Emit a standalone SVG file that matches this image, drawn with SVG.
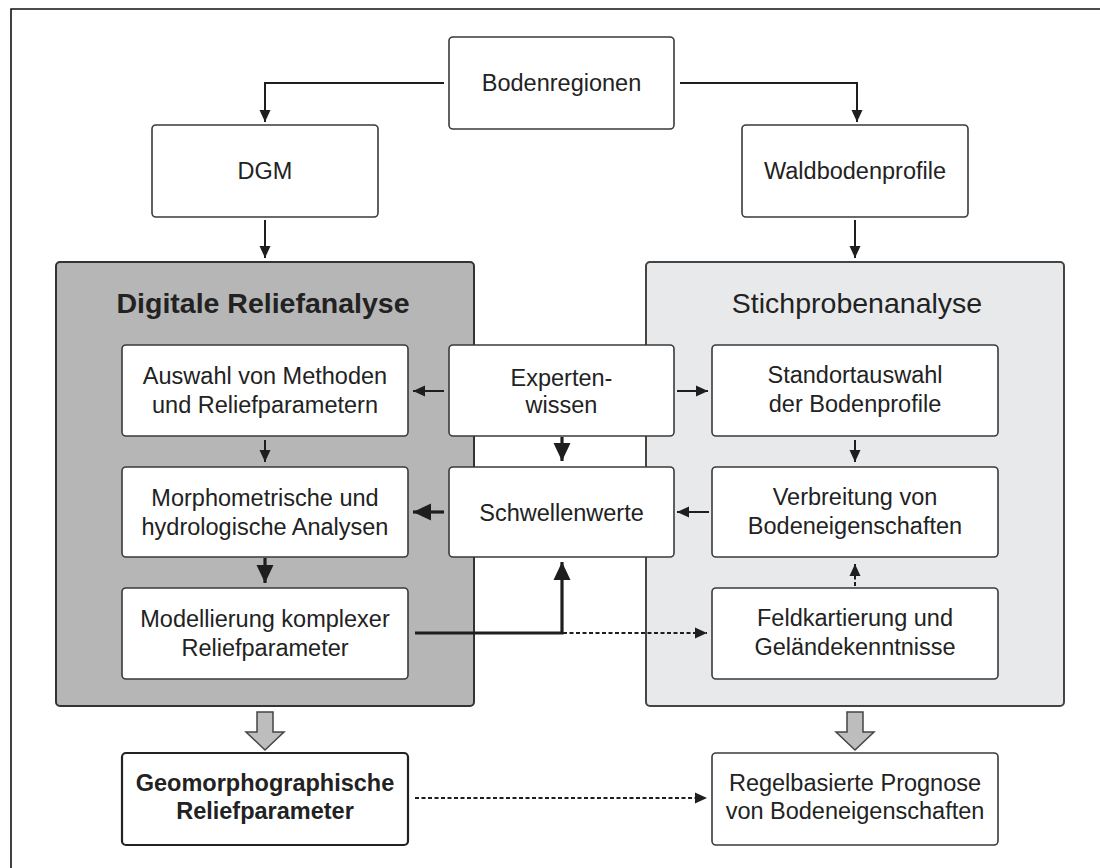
<svg xmlns="http://www.w3.org/2000/svg" width="1100" height="868" viewBox="0 0 1100 868">
<defs>
<style>
.box{fill:#fff;stroke:#3a3a3a;stroke-width:1.6}
.bold{stroke:#222;stroke-width:2.2}
.t{font-family:"Liberation Sans",Arial,sans-serif;font-size:23.5px;fill:#222;text-anchor:middle}
.tb{font-weight:bold}
.ln{fill:none;stroke:#1e1e1e;stroke-width:2}
.thk{fill:none;stroke:#1e1e1e;stroke-width:3.2}
.dot{fill:none;stroke:#1e1e1e;stroke-width:2;stroke-dasharray:4 2.5}
.blk{fill:#bdbdbd;stroke:#444;stroke-width:1.5}
</style>
<marker id="ah" markerUnits="userSpaceOnUse" markerWidth="13" markerHeight="12" refX="12" refY="6" orient="auto"><path d="M0,0.5 L12,6 L0,11.5 z" fill="#1e1e1e"/></marker>
<marker id="ahT" markerUnits="userSpaceOnUse" markerWidth="19" markerHeight="18" refX="18" refY="9" orient="auto"><path d="M0,0.5 L18,9 L0,17.5 z" fill="#1e1e1e"/></marker>
</defs>
<rect width="1100" height="868" fill="#fff"/>
<path d="M11,868 V9 H1100" fill="none" stroke="#111" stroke-width="1.6"/>

<g id="group-relief">
<rect x="56" y="262" width="418" height="444" rx="4" fill="#b6b6b6" stroke="#333" stroke-width="2"/>
<text class="t tb" x="263" y="313" style="font-size:28.5px">Digitale Reliefanalyse</text>
</g>
<g id="group-stichprobe">
<rect x="646" y="262" width="418" height="444" rx="4" fill="#e8e9eb" stroke="#444" stroke-width="2"/>
<text class="t" x="857" y="313" style="font-size:28.5px">Stichprobenanalyse</text>
</g>

<g id="bodenregionen"><rect class="box" x="449" y="37" width="225" height="92" rx="4"/><text class="t" x="561.5" y="91">Bodenregionen</text></g>
<g id="dgm"><rect class="box" x="152" y="125" width="226" height="92" rx="4"/><text class="t" x="265" y="179">DGM</text></g>
<g id="waldbodenprofile"><rect class="box" x="742" y="125" width="226" height="92" rx="4"/><text class="t" x="855" y="179">Waldbodenprofile</text></g>

<g id="auswahl"><rect class="box" x="122" y="345" width="286" height="91" rx="4"/><text class="t" x="265" y="384">Auswahl von Methoden</text><text class="t" x="265" y="413">und Reliefparametern</text></g>
<g id="morphometrische"><rect class="box" x="122" y="467" width="286" height="90" rx="4"/><text class="t" x="265" y="506">Morphometrische und</text><text class="t" x="265" y="535">hydrologische Analysen</text></g>
<g id="modellierung"><rect class="box" x="122" y="588" width="286" height="91" rx="4"/><text class="t" x="265" y="627">Modellierung komplexer</text><text class="t" x="265" y="656">Reliefparameter</text></g>

<g id="expertenwissen"><rect class="box" x="449" y="345" width="225" height="91" rx="4"/><text class="t" x="561.5" y="386">Experten-</text><text class="t" x="561.5" y="413">wissen</text></g>
<g id="schwellenwerte"><rect class="box" x="449" y="467" width="225" height="90" rx="4"/><text class="t" x="561.5" y="521">Schwellenwerte</text></g>

<g id="standortauswahl"><rect class="box" x="712" y="345" width="286" height="91" rx="4"/><text class="t" x="855" y="383">Standortauswahl</text><text class="t" x="855" y="412">der Bodenprofile</text></g>
<g id="verbreitung"><rect class="box" x="712" y="467" width="286" height="90" rx="4"/><text class="t" x="855" y="505">Verbreitung von</text><text class="t" x="855" y="534">Bodeneigenschaften</text></g>
<g id="feldkartierung"><rect class="box" x="712" y="588" width="286" height="91" rx="4"/><text class="t" x="855" y="626">Feldkartierung und</text><text class="t" x="855" y="655">Geländekenntnisse</text></g>

<g id="geomorphographische"><rect class="box bold" x="122" y="753" width="286" height="92" rx="4"/><text class="t tb" x="265" y="791">Geomorphographische</text><text class="t tb" x="265" y="819">Reliefparameter</text></g>
<g id="regelbasierte"><rect class="box" x="712" y="753" width="286" height="92" rx="4"/><text class="t" x="855" y="791">Regelbasierte Prognose</text><text class="t" x="855" y="819">von Bodeneigenschaften</text></g>

<g id="connectors">
<path class="ln" d="M444,83 H265 V122" marker-end="url(#ah)"/>
<path class="ln" d="M680,83 H857 V122" marker-end="url(#ah)"/>
<path class="ln" d="M265,220 V258" marker-end="url(#ah)"/>
<path class="ln" d="M855,220 V258" marker-end="url(#ah)"/>
<path class="ln" d="M444,391 H413" marker-end="url(#ah)"/>
<path class="ln" d="M677,391 H708" marker-end="url(#ah)"/>
<path class="thk" d="M562,437 V461" marker-end="url(#ahT)"/>
<path class="ln" d="M265,440 V462" marker-end="url(#ah)"/>
<path class="ln" d="M855,440 V462" marker-end="url(#ah)"/>
<path class="thk" d="M444,512 H413" marker-end="url(#ahT)"/>
<path class="ln" d="M709,512 H677" marker-end="url(#ah)"/>
<path class="thk" d="M265,558 V583" marker-end="url(#ahT)"/>
<path class="dot" d="M855,586 V564" marker-end="url(#ah)"/>
<path class="thk" d="M415,633 H562 V562" marker-end="url(#ahT)"/>
<path class="dot" d="M563,633 H707" marker-end="url(#ah)"/>
<path class="dot" d="M415,798 H707" marker-end="url(#ah)"/>
<path class="blk" d="M257,712 H273 V732 H284 L265,750 L246,732 H257 Z"/>
<path class="blk" d="M847,712 H863 V732 H874 L855,750 L836,732 H847 Z"/>
</g>
</svg>
